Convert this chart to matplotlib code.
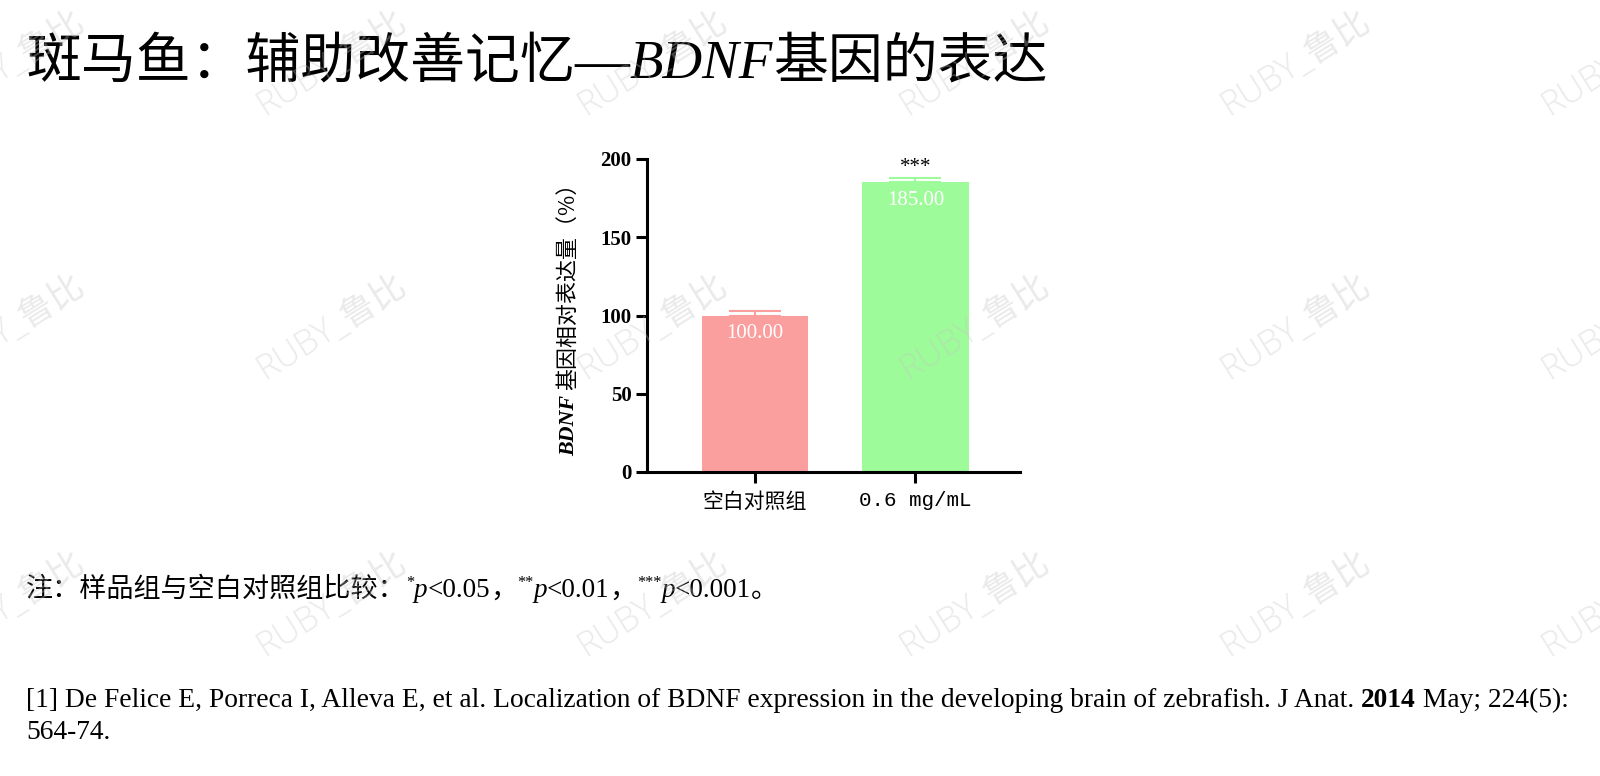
import matplotlib
matplotlib.use("Agg")
import matplotlib.pyplot as plt
import matplotlib.transforms as mtransforms

# Données du graphique
groupes = ["空白对照组", "0.6 mg/mL"]
valeurs = [100.00, 185.00]
erreurs = [3.0, 2.8]
etiquettes = ["100.00", "185.00"]
signif = ["", "***"]
couleurs = ["#FB9E9E", "#9EFB9A"]
yticks = [0, 50, 100, 150, 200]

titre_runs = [("斑马鱼：辅助改善记忆", "cjk", "normal", "normal", 0),
              ("—", "serif", "normal", "normal", 0),
              ("BDNF", "serif", "italic", "normal", 0),
              ("基因的表达", "cjk", "normal", "normal", 0)]
note_runs = [("注：样品组与空白对照组比较：", "cjk", "normal", "normal", 0),
             ("*", "serif", "normal", "normal", 7),
             ("p", "serif", "italic", "normal", 0),
             ("<0.05", "serif", "normal", "normal", 0),
             ("，", "cjk", "normal", "normal", 0),
             ("**", "serif", "normal", "normal", 7),
             ("p", "serif", "italic", "normal", 0),
             ("<0.01", "serif", "normal", "normal", 0),
             ("，", "cjk", "normal", "normal", 0),
             ("***", "serif", "normal", "normal", 7),
             ("p", "serif", "italic", "normal", 0),
             ("<0.001", "serif", "normal", "normal", 0),
             ("。", "cjk", "normal", "normal", 0)]
ref_ligne1 = [("[1] De Felice E, Porreca I, Alleva E, et al. Localization of BDNF expression "
               "in the developing brain of zebrafish. J Anat. ", "serif", "normal", "normal", 0),
              ("2014", "serif", "normal", "bold", 0),
              (" May; 224(5):", "serif", "normal", "normal", 0)]
ref_ligne2 = [("564-74.", "serif", "normal", "normal", 0)]
ylabel_runs = [("BDNF ", "serif", "italic", "bold", 0),
               ("基因相对表达量（%）", "cjk", "normal", "normal", 0)]

FAMILLES = {"cjk": ["Noto Sans CJK SC", "DejaVu Sans"],
            "serif": ["Liberation Serif", "Noto Sans CJK SC"]}

fig = plt.figure(figsize=(16, 7.76), dpi=100)
rendu = fig.canvas.get_renderer()


# Fonction pour écrire un texte en plusieurs morceaux (polices différentes)
def ecrire_runs(x, y, runs, taille, rotation=0):
    for texte, fam, style, poids, monte in runs:
        tr = mtransforms.offset_copy(fig.transFigure, fig, x=0, y=monte, units="points")
        t = fig.text(x, y, texte, transform=tr, fontsize=taille * (0.6 if monte else 1),
                     family=FAMILLES[fam], style=style, weight=poids,
                     rotation=rotation, rotation_mode="anchor",
                     ha="left", va="baseline")
        bb = t.get_window_extent(rendu)
        if rotation:
            y += bb.height / fig.bbox.height
        else:
            x += bb.width / fig.bbox.width


# Titre, note et référence
ecrire_runs(26 / 1600, 1 - 78 / 776, titre_runs, 39.5)
ecrire_runs(26 / 1600, 1 - 597 / 776, note_runs, 19.5)
ecrire_runs(26 / 1600, 1 - 707 / 776, ref_ligne1, 19.8)
ecrire_runs(26 / 1600, 1 - 739 / 776, ref_ligne2, 19.8)

# Graphique en barres
ax = fig.add_axes([647 / 1600, 1 - 472 / 776, 373 / 1600, 313 / 776])
x = list(range(len(groupes)))
ax.bar(x, valeurs, width=0.66, color=couleurs, zorder=2)
for xi, v, e, c in zip(x, valeurs, erreurs, couleurs):
    ax.errorbar(xi, v, yerr=[[0], [e]], fmt="none", ecolor=c, elinewidth=1.5,
                capsize=19, capthick=1.5, zorder=1)
for xi, v, lab in zip(x, valeurs, etiquettes):
    ax.annotate(lab, (xi, v), xytext=(0, -6), textcoords="offset points",
                ha="center", va="top", color="white", fontsize=15, family="Liberation Serif")
for xi, v, e, s in zip(x, valeurs, erreurs, signif):
    if s:
        ax.annotate(s, (xi, v + e), xytext=(0, 1), textcoords="offset points",
                    ha="center", va="bottom", fontsize=15, family="Liberation Serif")

ax.set_xlim(-0.67, 1.65)
ax.set_ylim(0, 200)
ax.set_yticks(yticks)
ax.set_yticklabels([str(t) for t in yticks], fontsize=15, fontweight="bold", family="Liberation Serif")
ax.set_xticks(x)
ax.set_xticklabels(groupes, fontsize=15)
lbls = ax.get_xticklabels()
lbls[0].set_family("Noto Sans CJK SC")
lbls[1].set_family("Liberation Mono")
for side in ["top", "right"]:
    ax.spines[side].set_visible(False)
for side in ["left", "bottom"]:
    ax.spines[side].set_linewidth(2.2)
ax.tick_params(axis="both", width=2.2, length=8, direction="out")
ax.tick_params(axis="x", pad=6)
ax.tick_params(axis="y", pad=3)

# Étiquette de l'axe Y (rotation 90)
ecrire_runs(574 / 1600, 1 - 456 / 776, ylabel_runs, 15.8, rotation=90)

# Filigrane
for cy in [63, 327, 604]:
    for cx in [10, 332, 653, 975, 1296, 1617]:
        fig.text(cx / 1600, 1 - cy / 776, "RUBY_鲁比", fontsize=25, rotation=32,
                 family=["Open Sans", "Noto Sans CJK SC"], weight="light",
                 color="#c4c4c4", alpha=0.35, ha="center", va="center", zorder=10)

fig.savefig("out.png", dpi=100)
